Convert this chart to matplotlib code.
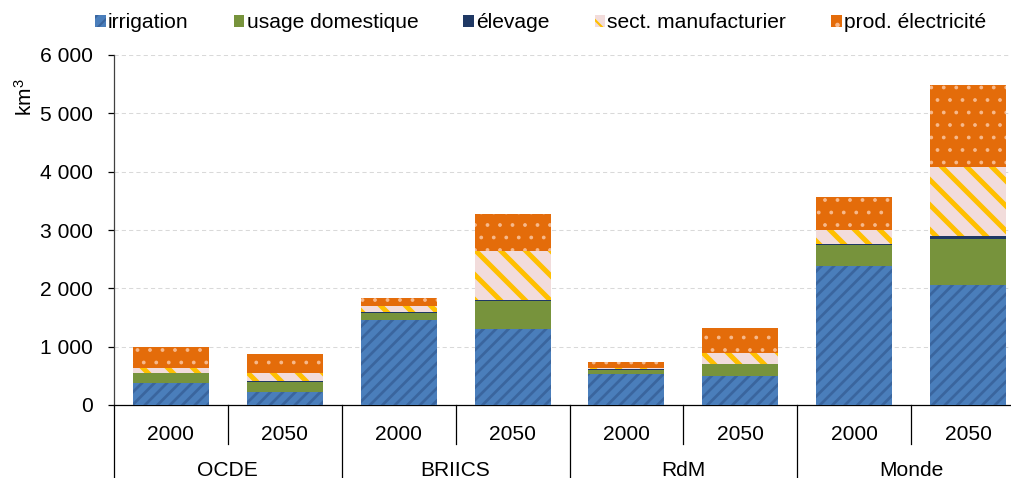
import numpy as np
import matplotlib
matplotlib.use('Agg')
import matplotlib.pyplot as plt
from matplotlib.patches import Patch
import matplotlib.transforms as mtransforms

plt.rcParams['font.family'] = ['Liberation Sans', 'DejaVu Sans']
plt.rcParams['mathtext.default'] = 'regular'

# données (km3)
groupes = ['OCDE', 'BRIICS', 'RdM', 'Monde']
annees = ['2000', '2050']
irrigation = [385, 230, 1450, 1310, 525, 505, 2390, 2050]
domestique = [160, 165, 135, 465, 80, 190, 350, 800]
elevage = [10, 10, 10, 20, 5, 10, 25, 40]
manufacturier = [85, 145, 100, 845, 30, 180, 235, 1195]
electricite = [360, 330, 135, 630, 100, 435, 570, 1395]
yticks = [0, 1000, 2000, 3000, 4000, 5000, 6000]

DPI = 150
W, H = 1011, 478
fig = plt.figure(figsize=(W / DPI, H / DPI), dpi=DPI)
FS = 10.1

ax_l, ax_r, ax_b, ax_t = 114, 1025, 405, 55
ax = fig.add_axes([ax_l / W, 1 - ax_b / H, (ax_r - ax_l) / W, (ax_b - ax_t) / H])

# (nom, valeurs, couleur de fond, couleur motif, motif, épaisseur motif)
series = [
    ('irrigation', irrigation, '#4a7ebb', '#3a659e', '////', 1.3),
    ('usage domestique', domestique, '#77933c', None, None, 0),
    ('élevage', elevage, '#1f3864', None, None, 0),
    ('sect. manufacturier', manufacturier, '#f2dcdb', '#ffc000', '\\\\', 2.4),
    ('prod. électricité', electricite, '#e46c0a', '#f7b98c', '..', 0.6),
]

x = np.arange(len(irrigation))
bas = np.zeros(len(x))
handles = []
for nom, vals, fc, hc, hatch, hlw in series:
    with plt.rc_context({'hatch.linewidth': hlw if hlw else 1.0}):
        barres = ax.bar(x, vals, 0.667, bottom=bas, color=fc,
                        edgecolor=hc if hc else fc, linewidth=0,
                        hatch=hatch, zorder=3)
        for b in barres:
            if hatch and hasattr(b, 'set_hatch_linewidth'):
                b.set_hatch_linewidth(hlw)
        h = Patch(facecolor=fc, edgecolor=hc if hc else fc, linewidth=0, hatch=hatch)
        if hatch and hasattr(h, 'set_hatch_linewidth'):
            h.set_hatch_linewidth(hlw)
    handles.append(h)
    bas += np.array(vals)

ax.set_xlim(-0.5, len(x) - 0.5)
ax.set_ylim(0, 6000)
ax.set_yticks(yticks)
ax.set_yticklabels([f'{v:,}'.replace(',', ' ') for v in yticks], fontsize=FS)
ax.tick_params(axis='y', length=3, width=0.6, pad=7)
ax.set_xticks([])
ax.yaxis.grid(True, color='#d9d9d9', linestyle=(0, (4, 3)), linewidth=0.5, zorder=0)
for s in ['top', 'right']:
    ax.spines[s].set_visible(False)
ax.spines['left'].set_linewidth(0.6)
ax.spines['bottom'].set_linewidth(0.6)
ax.spines['left'].set_color('#404040')

# axe des x à deux niveaux
trans = mtransforms.blended_transform_factory(ax.transData, ax.transAxes)
h_ax = ax_b - ax_t
for i in range(len(x)):
    ax.text(x[i], -30 / h_ax, annees[i % 2], transform=trans,
            ha='center', va='center', fontsize=FS)
for k in range(len(x) + 1):
    xb = k - 0.5
    if k % 2 == 0:
        ax.plot([xb, xb], [0, -90 / h_ax], transform=trans, color='black',
                lw=0.6, clip_on=False)
    else:
        ax.plot([xb, xb], [0, -39 / h_ax], transform=trans, color='black',
                lw=0.6, clip_on=False)
for g, nom in enumerate(groupes):
    ax.text(2 * g + 0.5, -65 / h_ax, nom, transform=trans,
            ha='center', va='center', fontsize=FS)

fig.text(25 / W, 1 - 97 / H, 'km$^{3}$', rotation=90, ha='center', va='center',
         fontsize=FS)

fig.legend(handles, [s[0] for s in series], loc='center left',
           bbox_to_anchor=(87 / W, 1 - 23 / H), ncol=5, frameon=False,
           fontsize=FS, handlelength=0.5, handleheight=0.5,
           handletextpad=0.1, columnspacing=2.15, borderaxespad=0)

fig.savefig('out.png', dpi=DPI)
